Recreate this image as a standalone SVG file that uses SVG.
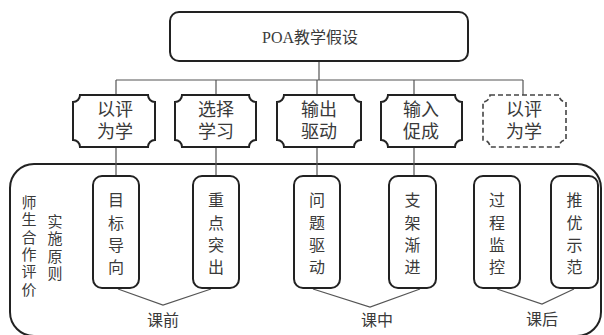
<svg xmlns="http://www.w3.org/2000/svg" width="604" height="335" viewBox="0 0 604 335">
<style>
text{font-family:"Liberation Serif","Noto Sans CJK SC",serif;fill:#3a3a3a;text-anchor:middle;dominant-baseline:central}
.box{fill:#fff;stroke:#222;stroke-width:2}
.dash{fill:#fff;stroke:#444;stroke-width:1.6;stroke-dasharray:5 3}
.con{fill:none;stroke:#555;stroke-width:1.2}
.t15{font-size:15px}.t16{font-size:16px}.t17{font-size:17px}.t18{font-size:18px}
</style>
<rect width="604" height="335" fill="#fff"/>
<g id="frame"><rect class="box" x="10" y="164" width="591" height="172" rx="24"/></g>
<g id="connectors">
<path class="con" d="M319 61V80M116 80H523M116 80V95M216 80V95M317 80V95M414 80V95M523 80V95"/>
<path class="con" d="M116 147V176M216 147V176M317 147V176M414 147V176"/>
<path class="con" d="M118 289L163 305L211 289M313 289L370 307L420 289M497 289L542 304L574 289"/>
</g>
<g id="root"><rect class="box" x="170" y="12" width="298" height="49" rx="9"/><text class="t16" x="310" y="37">POA教学假设</text></g>
<g id="n1"><path class="box" d="M80 95H148A7 7 0 0 0 155 102V140A7 7 0 0 0 148 147H80A7 7 0 0 0 73 140V102A7 7 0 0 0 80 95Z"/><text class="t18" x="115" y="110">以评</text><text class="t18" x="115" y="132">为学</text></g>
<g id="n2"><path class="box" d="M182 95H249A7 7 0 0 0 256 102V140A7 7 0 0 0 249 147H182A7 7 0 0 0 175 140V102A7 7 0 0 0 182 95Z"/><text class="t18" x="216" y="110">选择</text><text class="t18" x="216" y="132">学习</text></g>
<g id="n3"><path class="box" d="M284 95H354A7 7 0 0 0 361 102V140A7 7 0 0 0 354 147H284A7 7 0 0 0 277 140V102A7 7 0 0 0 284 95Z"/><text class="t18" x="319" y="110">输出</text><text class="t18" x="319" y="132">驱动</text></g>
<g id="n4"><path class="box" d="M388 95H455A7 7 0 0 0 462 102V140A7 7 0 0 0 455 147H388A7 7 0 0 0 381 140V102A7 7 0 0 0 388 95Z"/><text class="t18" x="421" y="110">输入</text><text class="t18" x="421" y="132">促成</text></g>
<g id="n5"><path class="dash" d="M490 95H559A7 7 0 0 0 566 102V140A7 7 0 0 0 559 147H490A7 7 0 0 0 483 140V102A7 7 0 0 0 490 95Z"/><text class="t18" x="524" y="110">以评</text><text class="t18" x="524" y="132">为学</text></g>
<g id="side">
<text class="t15" x="29" y="203">师</text><text class="t15" x="29" y="220">生</text><text class="t15" x="29" y="238">合</text><text class="t15" x="29" y="255">作</text><text class="t15" x="29" y="272">评</text><text class="t15" x="29" y="290">价</text>
<text class="t15" x="55" y="222">实</text><text class="t15" x="55" y="239">施</text><text class="t15" x="55" y="257">原</text><text class="t15" x="55" y="274">则</text>
</g>
<g id="b1"><rect class="box" x="93" y="176" width="46" height="112" rx="9"/><text class="t16" x="116" y="200">目</text><text class="t16" x="116" y="223">标</text><text class="t16" x="116" y="245">导</text><text class="t16" x="116" y="267">向</text></g>
<g id="b2"><rect class="box" x="193" y="176" width="46" height="112" rx="9"/><text class="t16" x="216" y="200">重</text><text class="t16" x="216" y="223">点</text><text class="t16" x="216" y="245">突</text><text class="t16" x="216" y="267">出</text></g>
<g id="b3"><rect class="box" x="294" y="176" width="46" height="112" rx="9"/><text class="t16" x="317" y="200">问</text><text class="t16" x="317" y="223">题</text><text class="t16" x="317" y="245">驱</text><text class="t16" x="317" y="267">动</text></g>
<g id="b4"><rect class="box" x="389" y="176" width="47" height="112" rx="9"/><text class="t16" x="412.5" y="200">支</text><text class="t16" x="412.5" y="223">架</text><text class="t16" x="412.5" y="245">渐</text><text class="t16" x="412.5" y="267">进</text></g>
<g id="b5"><rect class="box" x="474" y="176" width="46" height="112" rx="9"/><text class="t16" x="497" y="200">过</text><text class="t16" x="497" y="223">程</text><text class="t16" x="497" y="245">监</text><text class="t16" x="497" y="267">控</text></g>
<g id="b6"><rect class="box" x="551" y="176" width="47" height="112" rx="9"/><text class="t16" x="574.5" y="200">推</text><text class="t16" x="574.5" y="223">优</text><text class="t16" x="574.5" y="245">示</text><text class="t16" x="574.5" y="267">范</text></g>
<g id="labels"><text class="t16" x="163" y="320">课前</text><text class="t16" x="377" y="320">课中</text><text class="t16" x="542" y="319">课后</text></g>
</svg>
